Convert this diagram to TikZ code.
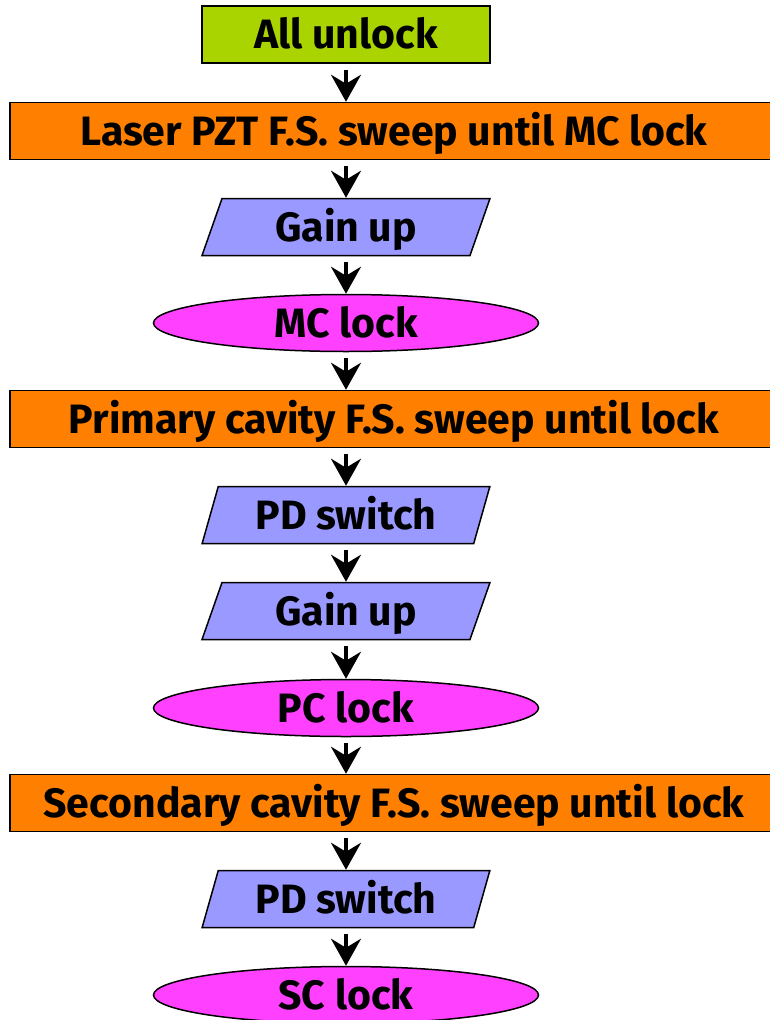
\documentclass[tikz,border=0pt]{standalone}
\usepackage{fontspec}
\setmainfont{Fira Sans}[UprightFont=* Bold]
\usetikzlibrary{shapes.geometric,arrows.meta}

\definecolor{startgreen}{RGB}{170,212,0}
\definecolor{sweeporange}{RGB}{255,128,0}
\definecolor{actionblue}{RGB}{153,153,255}
\definecolor{lockpink}{RGB}{255,64,255}

\tikzset{
  every node/.style={font=\fontsize{41}{45}\selectfont, text=black, inner sep=0pt,
    text height=28.3pt, text depth=0pt},
  box/.style={draw=black, line width=1.5pt, rectangle, minimum height=57pt},
  startbox/.style={box, fill=startgreen, minimum width=288pt},
  sweepbox/.style={box, fill=sweeporange, minimum width=768pt},
  actionbox/.style={draw=black, line width=1.5pt, trapezium, trapezium stretches=true,
    trapezium left angle=68, trapezium right angle=112,
    fill=actionblue, minimum width=288pt, minimum height=57pt},
  lockbox/.style={draw=black, line width=1.5pt, ellipse, fill=lockpink,
    minimum width=385pt, minimum height=57pt},
  flow/.style={line width=3.5pt, shorten <=6pt,
    -{Stealth[length=27pt, width=30pt, inset=9pt]}},
}

\begin{document}
\begin{tikzpicture}[x=1pt, y=-1pt]
  \useasboundingbox (0,0) rectangle (769,1020);

  \node[startbox]  (s0)  at (346, 34.5) {All unlock};
  \node[sweepbox]  (s1)  at (394, 131)  {Laser PZT F.S. sweep until MC lock};
  \node[actionbox] (s2)  at (346, 227)  {Gain up};
  \node[lockbox]   (s3)  at (346, 323)  {MC lock};
  \node[sweepbox]  (s4)  at (394, 419)  {Primary cavity F.S. sweep until lock};
  \node[actionbox] (s5)  at (346, 515)  {PD switch};
  \node[actionbox] (s6)  at (346, 611)  {Gain up};
  \node[lockbox]   (s7)  at (346, 708)  {PC lock};
  \node[sweepbox]  (s8)  at (394, 803)  {Secondary cavity F.S. sweep until lock};
  \node[actionbox] (s9)  at (346, 899)  {PD switch};
  \node[lockbox]   (s10) at (346, 995)  {SC lock};

  \foreach \a/\b in {s0/s1, s1/s2, s2/s3, s3/s4, s4/s5, s5/s6, s6/s7, s7/s8, s8/s9, s9/s10}
    \draw[flow] (\a.south -| 346,0) -- (\b.north -| 346,0);
\end{tikzpicture}
\end{document}
